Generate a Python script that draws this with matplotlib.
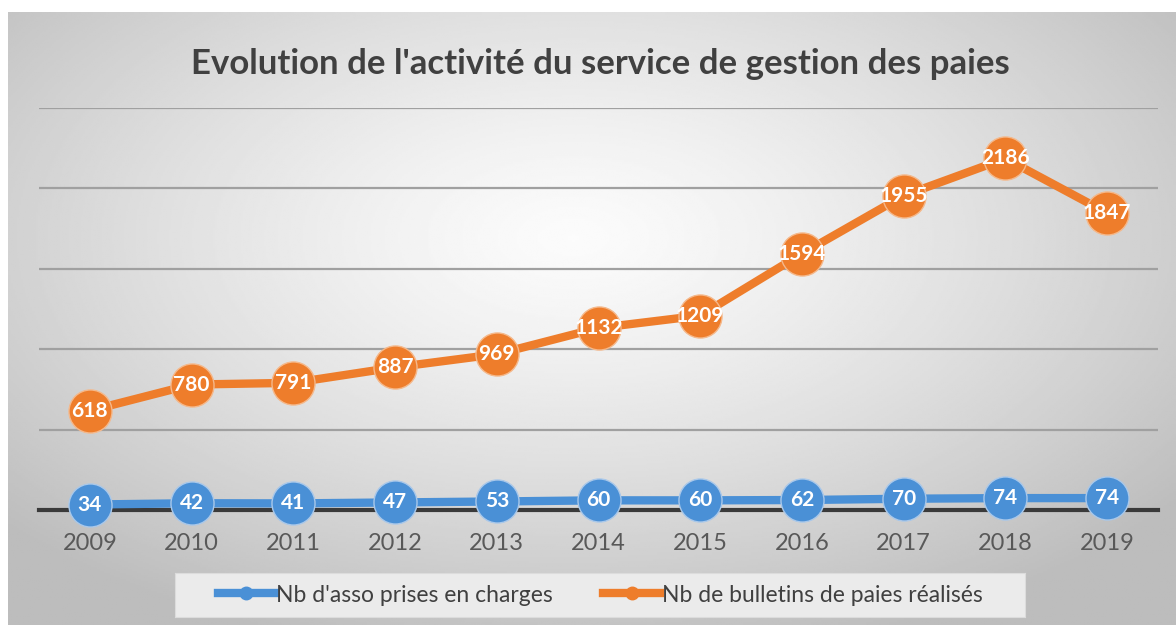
import numpy as np
import matplotlib
matplotlib.use("Agg")
import matplotlib.pyplot as plt

years = ["2009", "2010", "2011", "2012", "2013", "2014", "2015", "2016", "2017", "2018", "2019"]
nb_asso = [34, 42, 41, 47, 53, 60, 60, 62, 70, 74, 74]
nb_bulletins = [618, 780, 791, 887, 969, 1132, 1209, 1594, 1955, 2186, 1847]

title = "Evolution de l'activité du service de gestion des paies"
label_asso = "Nb d'asso prises en charges"
label_bulletins = "Nb de bulletins de paies réalisés"

blue = "#4a90d6"
orange = "#ee7d2b"

plt.rcParams["font.family"] = ["Lato", "DejaVu Sans"]

W, H = 1176, 625
fig = plt.figure(figsize=(W / 100, H / 100), dpi=100)
fig.patch.set_facecolor("white")

# radial grey gradient background for the chart area
bg = fig.add_axes([8 / W, 0, 1 - 8 / W, 1 - 12 / H])
bg.set_axis_off()
yy, xx = np.mgrid[0:300, 0:600]
cx, cy = 290, 110
r = np.sqrt(((xx - cx) / 600) ** 2 + ((yy - cy) / 300) ** 2 * 0.9)
shade = np.clip(0.985 - 0.42 * r ** 1.3, 0.74, 0.985)
bg.imshow(shade, cmap="gray", vmin=0, vmax=1, aspect="auto", extent=[0, 1, 0, 1])
bg.set_xlim(0, 1)
bg.set_ylim(0, 1)

ax = fig.add_axes([39 / W, 115 / H, (1158 - 39) / W, 402 / H])
ax.set_facecolor("none")
x = np.arange(len(years))

ax.set_xlim(-0.5, len(years) - 0.5)
ax.set_ylim(0, 2500)
ax.set_yticks([500, 1000, 1500, 2000, 2500])
ax.yaxis.grid(True, color="#a0a0a0", linewidth=1.6)
ax.set_axisbelow(True)
for s in ax.spines.values():
    s.set_visible(False)
ax.axhline(0, color="#3a3a3a", linewidth=3, zorder=1, clip_on=False)
ax.tick_params(axis="y", left=False, labelleft=False)
ax.tick_params(axis="x", bottom=False, labelsize=17, labelcolor="#595959", pad=13)
ax.set_xticks(x)
ax.set_xticklabels(years)

ax.plot(x, nb_asso, color=blue, linewidth=6, marker="o", markersize=31,
        markeredgecolor="#a9c8ea", markeredgewidth=1, zorder=3, clip_on=False)
ax.plot(x, nb_bulletins, color=orange, linewidth=6, marker="o", markersize=31,
        markeredgecolor="#f5b88a", markeredgewidth=1, zorder=3, clip_on=False)

for xi, v in zip(x, nb_asso):
    ax.text(xi, v, str(v), ha="center", va="center", color="white",
            fontsize=15, fontweight="bold", zorder=4)
for xi, v in zip(x, nb_bulletins):
    ax.text(xi, v, str(v), ha="center", va="center", color="white",
            fontsize=15, fontweight="bold", zorder=4)

fig.text(600 / W, 1 - 74 / H, title, ha="center", va="baseline",
         fontsize=25, fontweight="bold", color="#404040")

# legend
lax = fig.add_axes([175 / W, 8 / H, (1025 - 175) / W, 44 / H])
lax.set_xlim(0, 1)
lax.set_ylim(0, 1)
lax.set_facecolor("#ebebeb")
for s in lax.spines.values():
    s.set_color("#dcdcdc")
lax.set_xticks([])
lax.set_yticks([])
lh1, = lax.plot([], [], color=blue, linewidth=6, marker="o", markersize=9)
lh2, = lax.plot([], [], color=orange, linewidth=6, marker="o", markersize=9)
leg = lax.legend([lh1, lh2], [label_asso, label_bulletins], loc="center", ncol=2,
                 frameon=False, fontsize=16.5, handlelength=2.5, handletextpad=0.05,
                 columnspacing=2.2, labelcolor="#404040")

fig.savefig("out.png", dpi=100)
